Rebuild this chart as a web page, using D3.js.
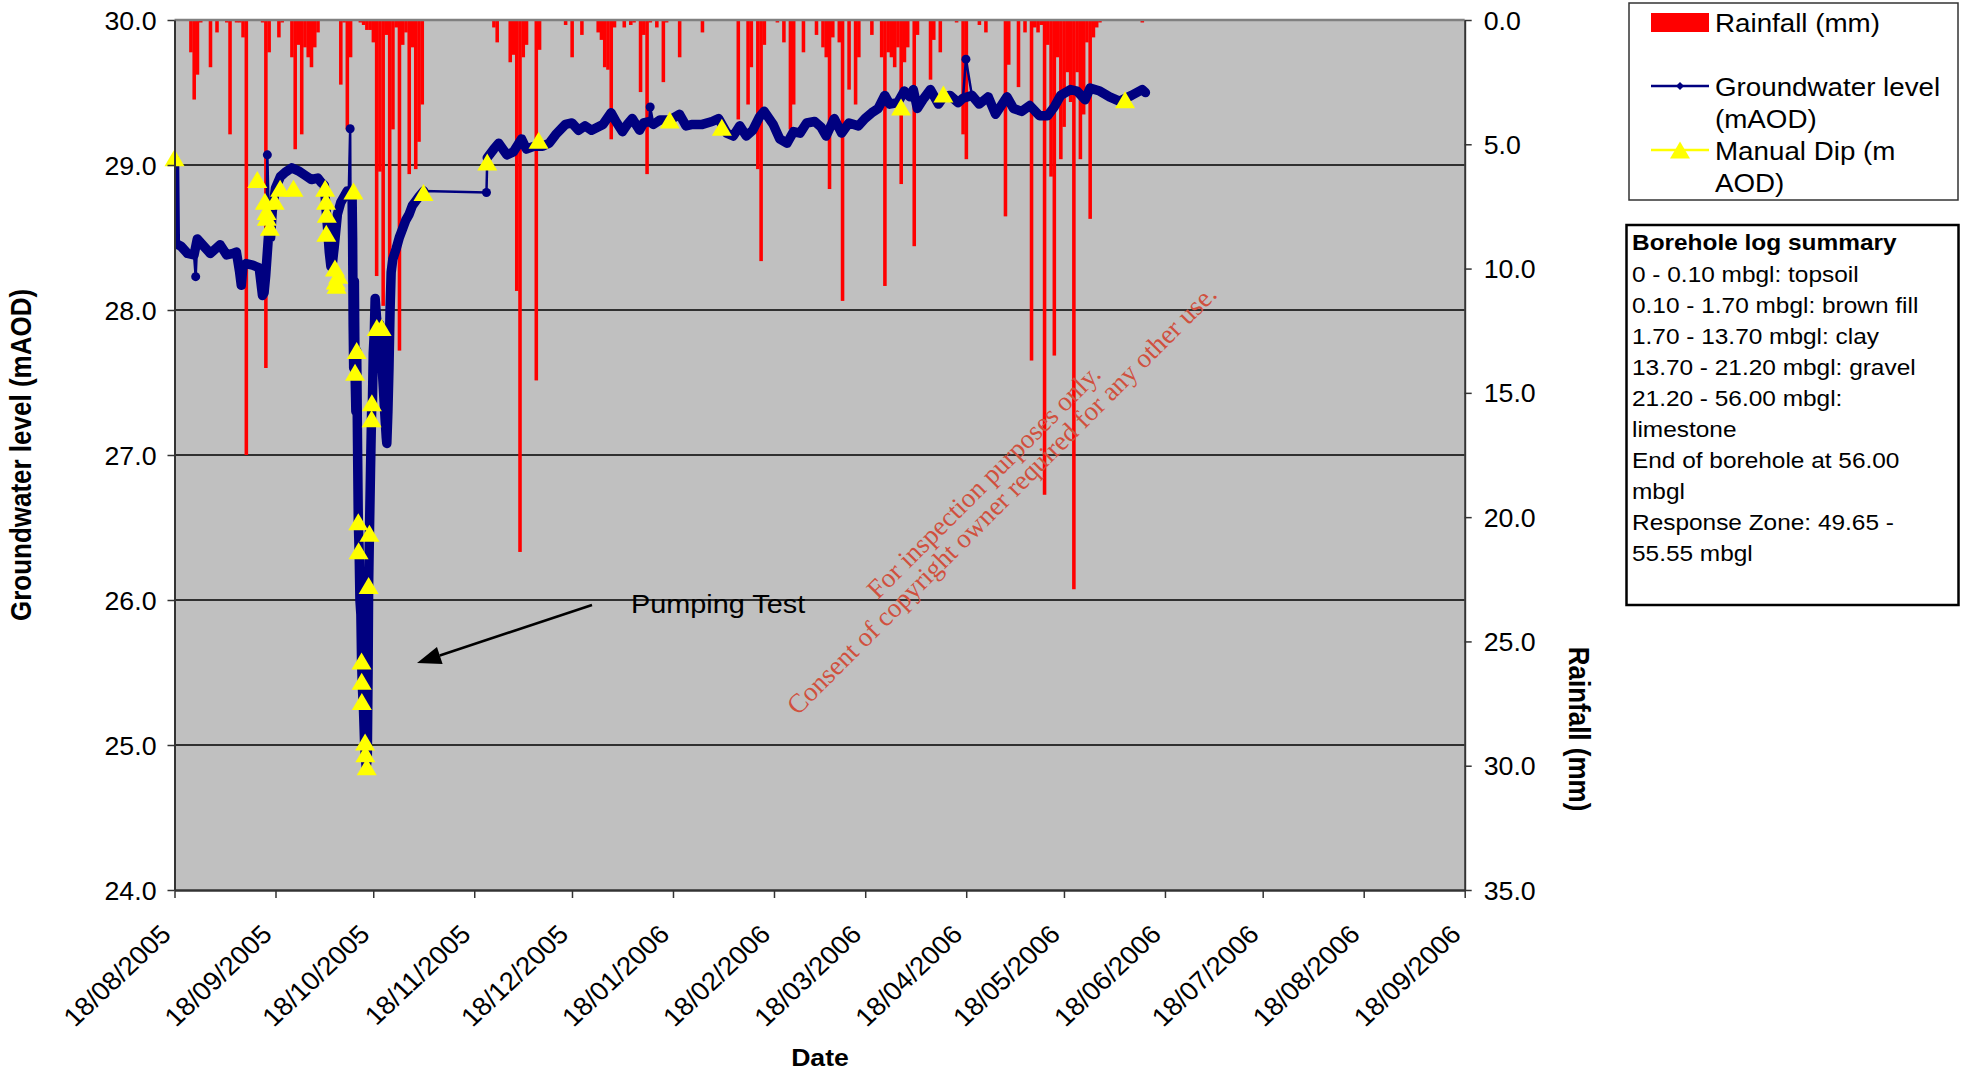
<!DOCTYPE html>
<html>
<head>
<meta charset="utf-8">
<script src="https://cdn.jsdelivr.net/npm/d3@7"></script>
<style>
  html, body { margin: 0; padding: 0; background: #fff; }
  svg { display: block; font-family: "Liberation Sans", Arial, sans-serif; }
</style>
</head>
<body>
<svg id="chart" width="1968" height="1074"></svg>
<script>
// ---------------------------------------------------------------------------
// Axis ticks
// ---------------------------------------------------------------------------
const dateTickLabels = ["18/08/2005","18/09/2005","18/10/2005","18/11/2005","18/12/2005",
  "18/01/2006","18/02/2006","18/03/2006","18/04/2006","18/05/2006","18/06/2006",
  "18/07/2006","18/08/2006","18/09/2006"];
const levelTicks = [24, 25, 26, 27, 28, 29, 30];
const rainTicks = [0, 5, 10, 15, 20, 25, 30, 35];

// ---------------------------------------------------------------------------
// Daily rainfall (mm), one array per month
// ---------------------------------------------------------------------------
const rainAug05 = [0,0,0,0,0,1.3,3.2,2.2,0.1,0,0,1.9,0,0.5];              // from 18 Aug
const rainSep05 = [0,0,0.1,4.6,0,0.1,0.1,0.7,17.5,0,0,0,0,0.1,14.0,1.3,0,0,0.7,0.1,
                   0,0,1.5,5.2,1.0,4.6,1.1,1.5,1.9,1.1];
const rainOct05 = [0.5,0,0,0,0,0,0,2.6,0.1,4.4,1.5,0,0,0.1,0.2,0.4,0.4,0.9,10.3,6.1,
                   11.5,0.6,15.1,4.4,0.3,13.3,1.0,0.5,6.2,1.1,6.0];
const rainNov05 = [4.9,3.4,0,0,0,0,0,0,0,0,0,0,0,0,0,0,0,0,0,0,0,0,0,0.3,0.9,0,0,0,1.7,1.4];
const rainDec05 = [10.9,21.4,1.5,1.0,0,0,14.5,1.2,0,0,0,0,0,0,0,0.2,0,1.5,0,0,
                   0.6,0,0,0,0,0.5,0.8,1.9,2.0,4.8,0.3];
const rainJan06 = [0,0,0.3,0,0.2,0.1,0,2.9,0.6,6.2,0.1,0,0.3,0,2.5,0.1,0,0,0,1.5,
                   0,0,0,0,0,0,0.5,0,0,0,0];
const rainFeb06 = [0,0,0,0,0,0,4.0,0,0,3.4,1.9,0,6.0,9.7,1.0,0,0,0,0.1,0,0.9,0,4.4,3.4,0,0,1.3,0];
const rainMar06 = [0,0,0.6,0,1.1,1.5,6.8,0.7,0,0.9,11.3,0,2.8,0,3.4,1.5,0,0,0,0.6,
                   0,0,1.5,10.7,1.3,1.5,1.9,1.1,6.6,1.7,1.1];
const rainApr06 = [0,9.1,0.6,0,0,0,2.4,0.8,0,1.3,0,0,0,0,0.1,0,4.6,5.6,0,0,
                   0,0.2,0,0.5,0,0,0,0,0,7.9];
const rainMay06 = [1.8,0,0,2.7,0,0.5,0,13.7,0.3,0.5,0.2,19.1,1.0,6.3,13.5,1.5,5.6,4.3,2.1,3.3,
                   22.9,2.1,5.6,3.8,0.9,8.0,0.7,0.3,0.1,0,0];
const rainJun06 = [0,0,0,0,0,0,0,0,0,0,0.1];
const rainMonths = [["2005-08-18", rainAug05], ["2005-09-01", rainSep05], ["2005-10-01", rainOct05],
  ["2005-11-01", rainNov05], ["2005-12-01", rainDec05], ["2006-01-01", rainJan06],
  ["2006-02-01", rainFeb06], ["2006-03-01", rainMar06], ["2006-04-01", rainApr06],
  ["2006-05-01", rainMay06], ["2006-06-01", rainJun06]];

// ---------------------------------------------------------------------------
// Groundwater level (mAOD) from the data logger
// ---------------------------------------------------------------------------
const levelsSummer = [
  ["2005-08-18T00",29.04],["2005-08-18T06",28.46],["2005-08-20",28.44],["2005-08-22",28.39],
  ["2005-08-24",28.38],["2005-08-25",28.49],["2005-08-27",28.44],["2005-08-29",28.39],
  ["2005-09-01",28.45],["2005-09-03",28.38],["2005-09-05",28.39],["2005-09-06",28.40],
  ["2005-09-07",28.26],["2005-09-07T12",28.17],["2005-09-08",28.30],["2005-09-09",28.32],
  ["2005-09-11",28.31],["2005-09-12",28.30],["2005-09-13",28.29],["2005-09-14",28.10],
  ["2005-09-14T12",28.12],["2005-09-15",28.24],["2005-09-16",28.56],["2005-09-16T12",28.50],
  ["2005-09-17",28.68],["2005-09-18",28.84],["2005-09-19T12",28.92],["2005-09-21",28.95],
  ["2005-09-23",28.98],["2005-09-25",28.96],["2005-09-27",28.93],["2005-09-29",28.90],
  ["2005-10-01",28.91],["2005-10-02",28.88],["2005-10-03",28.86],["2005-10-03T12",28.70],
  ["2005-10-04",28.56],["2005-10-04T12",28.40],["2005-10-05",28.30],["2005-10-05T12",28.33],
  ["2005-10-06",28.43],["2005-10-07",28.66],["2005-10-08",28.74],["2005-10-09",28.78],
  ["2005-10-10",28.82],["2005-10-10T12",28.82]
];
const levelsPumpTest = [
  ["2005-10-11T00",28.80],["2005-10-11T12",28.80],["2005-10-11T16",28.50],["2005-10-11T20",27.90],
  ["2005-10-12T00",27.60],["2005-10-12T05",28.20],["2005-10-12T10",27.57],["2005-10-12T16",27.30],
  ["2005-10-12T22",27.72],["2005-10-13T04",27.10],["2005-10-13T10",26.54],["2005-10-13T16",26.34],
  ["2005-10-13T22",26.00],["2005-10-14T05",25.90],["2005-10-14T10",25.58],["2005-10-14T16",25.40],
  ["2005-10-15T00",25.25],["2005-10-15T08",25.02],["2005-10-15T14",24.92],["2005-10-15T20",24.85],
  ["2005-10-16T04",24.90],["2005-10-16T10",25.50],["2005-10-16T14",26.10],["2005-10-16T20",26.46],
  ["2005-10-17T04",26.90],["2005-10-17T12",27.30],["2005-10-17T18",27.36],["2005-10-18T00",27.70],
  ["2005-10-18T08",27.85],["2005-10-18T14",28.08],["2005-10-19T00",27.95],["2005-10-19T12",27.85],
  ["2005-10-20T00",27.90],["2005-10-20T12",27.70],["2005-10-21T00",27.50],["2005-10-21T12",27.30],
  ["2005-10-22T00",27.12],["2005-10-22T04",27.08],["2005-10-22T12",27.30],["2005-10-22T20",27.60],
  ["2005-10-23T04",28.00],["2005-10-23T12",28.26],["2005-10-24T00",28.35],["2005-10-25",28.42],
  ["2005-10-26",28.50],["2005-10-27",28.56],["2005-10-28",28.62],["2005-10-29",28.66],
  ["2005-10-30",28.72],["2005-10-31",28.75],["2005-11-01",28.78],["2005-11-02T12",28.82]
];
const levelsWinter = [
  ["2005-11-22T00",29.05],["2005-11-24",29.11],["2005-11-25T12",29.15],["2005-11-28",29.07],
  ["2005-11-30",29.09],["2005-12-02T12",29.18],["2005-12-04",29.11],["2005-12-06T12",29.13],
  ["2005-12-09",29.13],["2005-12-11",29.15],["2005-12-13",29.21],["2005-12-16",29.28],
  ["2005-12-18",29.29],["2005-12-20",29.24],["2005-12-22",29.27],["2005-12-24",29.24],
  ["2005-12-27T12",29.28],["2005-12-30",29.36],["2005-12-31T12",29.30],["2006-01-02T12",29.23],
  ["2006-01-04",29.28],["2006-01-05T12",29.32],["2006-01-07T18",29.24],["2006-01-09",29.29],
  ["2006-01-10T18",29.30],["2006-01-12",29.28],["2006-01-14",29.31],["2006-01-17",29.31],
  ["2006-01-20",29.35],["2006-01-22",29.27],["2006-01-24",29.28],["2006-01-27",29.28],
  ["2006-01-30",29.30],["2006-02-01",29.32],["2006-02-03T12",29.22],["2006-02-05T12",29.20],
  ["2006-02-07T12",29.27],["2006-02-09T12",29.20],["2006-02-11T12",29.24],["2006-02-13T12",29.33],
  ["2006-02-15",29.37],["2006-02-17T18",29.28],["2006-02-19T18",29.18],["2006-02-22",29.15],
  ["2006-02-24",29.23],["2006-02-26",29.22],["2006-02-28",29.29],["2006-03-02T12",29.30],
  ["2006-03-04T12",29.26],["2006-03-06",29.20],["2006-03-08T12",29.32],["2006-03-10T18",29.22],
  ["2006-03-13",29.29],["2006-03-15T22",29.27],["2006-03-17T22",29.32],["2006-03-20",29.36],
  ["2006-03-22",29.39],["2006-03-24",29.48],["2006-03-25T12",29.42],["2006-03-28",29.43],
  ["2006-03-30",29.51],["2006-03-31T18",29.47],["2006-04-01T18",29.52],["2006-04-03",29.39],
  ["2006-04-05",29.46],["2006-04-07",29.52],["2006-04-09T12",29.42],["2006-04-11",29.47],
  ["2006-04-13",29.48],["2006-04-15T12",29.43],["2006-04-17",29.46],["2006-04-19T18",29.48],
  ["2006-04-22",29.42],["2006-04-24T18",29.47],["2006-04-27",29.35],["2006-04-30T12",29.47],
  ["2006-05-02T12",29.39],["2006-05-05",29.37],["2006-05-07T12",29.41],["2006-05-10T12",29.34],
  ["2006-05-13",29.34],["2006-05-15",29.40],["2006-05-17",29.48],["2006-05-20",29.52],
  ["2006-05-22",29.51],["2006-05-24T12",29.45],["2006-05-26",29.53],["2006-05-29",29.51],
  ["2006-06-01",29.47],["2006-06-04",29.44],["2006-06-07T18",29.48],["2006-06-11",29.52],
  ["2006-06-12",29.50]
];
// single logger readings standing apart from the run of values
const loggerIsolated = [
  ["2005-08-24T12",28.23],["2005-09-15T12",29.07],["2005-10-10T22",29.25],
  ["2005-11-21T18",28.81],["2006-01-11T00",29.40],["2006-04-17T22",29.73]
];

// ---------------------------------------------------------------------------
// Manual dip readings (m AOD)
// ---------------------------------------------------------------------------
const manualDips = [
  ["2005-08-18T00",29.05],["2005-09-12T10",28.90],["2005-09-14T18",28.75],["2005-09-15T06",28.68],
  ["2005-09-15T08",28.64],["2005-09-16T06",28.57],["2005-09-17T18",28.75],["2005-09-19T10",28.84],
  ["2005-09-23T12",28.84],["2005-10-03T06",28.84],["2005-10-03T12",28.75],["2005-10-03T18",28.66],
  ["2005-10-03T14",28.53],["2005-10-06T06",28.29],["2005-10-06T12",28.20],["2005-10-06T18",28.17],
  ["2005-10-07T06",28.24],["2005-10-11T22",28.82],["2005-10-12T10",27.57],["2005-10-12T22",27.72],
  ["2005-10-13T10",26.54],["2005-10-13T12",26.34],["2005-10-14T10",25.58],["2005-10-14T11",25.44],
  ["2005-10-14T12",25.30],["2005-10-15T12",25.02],["2005-10-15T14",24.94],["2005-10-16T00",24.85],
  ["2005-10-16T14",26.10],["2005-10-16T20",26.46],["2005-10-17T12",27.25],["2005-10-17T14",27.36],
  ["2005-10-19T02",27.88],["2005-10-20T14",27.88],["2005-11-02T10",28.81],["2005-11-22T00",29.02],
  ["2005-12-07T18",29.17],["2006-01-17T00",29.31],["2006-02-02T00",29.26],["2006-03-29T00",29.40],
  ["2006-04-11T00",29.49],["2006-06-05T18",29.45]
];

const boreholeLog = [
  "0 - 0.10 mbgl: topsoil",
  "0.10 - 1.70 mbgl: brown fill",
  "1.70 - 13.70 mbgl: clay",
  "13.70 - 21.20 mbgl: gravel",
  "21.20 - 56.00 mbgl:",
  "limestone",
  "End of borehole at 56.00",
  "mbgl",
  "Response Zone: 49.65 -",
  "55.55 mbgl"
];

// ---------------------------------------------------------------------------
// Layout & scales
// ---------------------------------------------------------------------------
const M = { left: 174.5, right: 1464.7, top: 20, bottom: 890 };
const SX = 1.11;             // horizontal stretch of the lettering
const NAVY = "#000080";

const parseDay = d3.utcParse("%Y-%m-%d");
const parseHour = d3.utcParse("%Y-%m-%dT%H");
const parseTime = s => (s.length > 10 ? parseHour(s) : parseDay(s));
const parseTick = d3.utcParse("%d/%m/%Y");
const tickDates = dateTickLabels.map(parseTick);

const x = d3.scaleUtc().domain([tickDates[0], tickDates[tickDates.length - 1]]).range([M.left, M.right]);
const yLevel = d3.scaleLinear().domain([24, 30]).range([M.bottom, M.top]);
const yRain = d3.scaleLinear().domain([0, 35]).range([M.top, M.bottom]);

const svg = d3.select("#chart");
svg.append("defs").append("clipPath").attr("id", "plot-clip")
  .append("rect").attr("x", M.left).attr("y", M.top)
  .attr("width", M.right - M.left).attr("height", M.bottom - M.top);

function label(parent, px, py, str, o = {}) {
  const t = parent.append("text")
    .attr("transform", `translate(${px},${py}) scale(${o.sx ?? SX},1)` + (o.rotate ? ` rotate(${o.rotate})` : ""))
    .attr("text-anchor", o.anchor || "start")
    .attr("font-size", o.size || 24)
    .attr("font-weight", o.weight || "normal")
    .attr("fill", o.fill || "#000")
    .text(str);
  if (o.family) t.attr("font-family", o.family);
  return t;
}

// plot area
svg.append("rect").attr("x", M.left).attr("y", M.top)
  .attr("width", M.right - M.left).attr("height", M.bottom - M.top).attr("fill", "#C0C0C0");

// horizontal gridlines on the level axis
svg.append("g").selectAll("line")
  .data(levelTicks.filter(v => v > 24 && v < 30))
  .join("line")
  .attr("x1", M.left).attr("x2", M.right)
  .attr("y1", d => yLevel(d)).attr("y2", d => yLevel(d))
  .attr("stroke", "#000").attr("stroke-width", 1.5);

// rainfall bars hanging from the top axis
const rainDays = rainMonths.flatMap(([start, values]) =>
  values.map((mm, i) => ({ date: d3.utcDay.offset(parseDay(start), i), mm })))
  .filter(d => d.mm > 0);
svg.append("g").attr("clip-path", "url(#plot-clip)")
  .selectAll("rect").data(rainDays).join("rect")
  .attr("x", d => x(d3.utcHour.offset(d.date, -12)))
  .attr("width", d => x(d3.utcHour.offset(d.date, 12)) - x(d3.utcHour.offset(d.date, -12)) + 0.3)
  .attr("y", yRain(0))
  .attr("height", d => yRain(d.mm) - yRain(0))
  .attr("fill", "#FF0000");

// top border of the plot area
svg.append("line").attr("x1", M.left).attr("x2", M.right).attr("y1", M.top).attr("y2", M.top)
  .attr("stroke", "#808080").attr("stroke-width", 2.5);

// groundwater level
const toPoint = ([t, v]) => ({ date: parseTime(t), level: v });
const logger = [...levelsSummer, ...levelsPumpTest, ...levelsWinter].map(toPoint);
const isolated = loggerIsolated.map(toPoint);
const allLevels = [...logger, ...isolated].sort((a, b) => a.date - b.date);
const lineGen = d3.line().x(d => x(d.date)).y(d => yLevel(d.level));

const gw = svg.append("g").attr("clip-path", "url(#plot-clip)");
gw.append("path").datum(allLevels).attr("d", lineGen)
  .attr("fill", "none").attr("stroke", NAVY).attr("stroke-width", 2.5);

// dense logger runs: the markers merge into a continuous band
const runs = [];
logger.forEach((p, i) => {
  if (i === 0 || (p.date - logger[i - 1].date) > 4 * 864e5) runs.push([]);
  runs[runs.length - 1].push(p);
});
gw.selectAll("path.band").data(runs).join("path").attr("class", "band")
  .attr("d", lineGen).attr("fill", "none").attr("stroke", NAVY)
  .attr("stroke-width", 9.5).attr("stroke-linejoin", "round").attr("stroke-linecap", "round");
gw.selectAll("circle.iso").data(isolated).join("circle").attr("class", "iso")
  .attr("cx", d => x(d.date)).attr("cy", d => yLevel(d.level)).attr("r", 4.5).attr("fill", NAVY);

// manual dips
const tri = (w, h) => `M0,${-h / 2}L${w / 2},${h / 2}L${-w / 2},${h / 2}Z`;
svg.append("g").selectAll("path").data(manualDips.map(toPoint)).join("path")
  .attr("transform", d => `translate(${x(d.date)},${yLevel(d.level)})`)
  .attr("d", tri(20, 17)).attr("fill", "#FFFF00");

// axes
const axisStroke = "#333";
const leftAxis = svg.append("g").attr("transform", `translate(${M.left},0)`)
  .call(d3.axisLeft(yLevel).tickValues(levelTicks).tickFormat(d3.format(".1f")).tickSize(7).tickSizeOuter(0));
leftAxis.select(".domain").attr("stroke", axisStroke).attr("stroke-width", 2);
leftAxis.selectAll(".tick line").attr("stroke", axisStroke).attr("stroke-width", 1.5);
leftAxis.selectAll(".tick text")
  .attr("font-size", 25).attr("font-family", "Liberation Sans, Arial, sans-serif").attr("fill", "#000")
  .attr("x", -18 / 1.07).attr("dy", "0.36em").attr("transform", "scale(1.07,1)");

const rightAxis = svg.append("g").attr("transform", `translate(${M.right},0)`)
  .call(d3.axisRight(yRain).tickValues(rainTicks).tickFormat(d3.format(".1f")).tickSize(7).tickSizeOuter(0));
rightAxis.select(".domain").attr("stroke", axisStroke).attr("stroke-width", 2);
rightAxis.selectAll(".tick line").attr("stroke", axisStroke).attr("stroke-width", 1.5);
rightAxis.selectAll(".tick text")
  .attr("font-size", 25).attr("font-family", "Liberation Sans, Arial, sans-serif").attr("fill", "#000")
  .attr("x", 19 / 1.07).attr("dy", "0.36em").attr("transform", "scale(1.07,1)");

const bottomAxis = svg.append("g").attr("transform", `translate(0,${M.bottom})`)
  .call(d3.axisBottom(x).tickValues(tickDates).tickFormat("").tickSize(8).tickSizeOuter(0));
bottomAxis.select(".domain").attr("stroke", axisStroke).attr("stroke-width", 2.5);
bottomAxis.selectAll(".tick line").attr("stroke", axisStroke).attr("stroke-width", 1.5);
const dateLabels = svg.append("g");
dateTickLabels.forEach((s, i) => {
  label(dateLabels, x(tickDates[i]) - 2, 936, s, { anchor: "end", rotate: -45, size: 26, sx: 1.06 });
});

// axis titles
label(svg, 31, 455, "Groundwater level (mAOD)", { anchor: "middle", rotate: -90, size: 26, weight: "bold" });
label(svg, 1569, 729, "Rainfall (mm)", { anchor: "middle", rotate: 90, size: 26, weight: "bold" });
label(svg, 820, 1066, "Date", { anchor: "middle", size: 24, weight: "bold" });

// pumping test annotation
label(svg, 631, 613, "Pumping Test", { size: 26 });
{
  const x0 = 592, y0 = 605, x1 = 417, y1 = 663;
  const len = Math.hypot(x1 - x0, y1 - y0), ux = (x1 - x0) / len, uy = (y1 - y0) / len;
  const hl = 24, hw = 9;
  const bx = x1 - ux * hl, by = y1 - uy * hl;
  svg.append("line").attr("x1", x0).attr("y1", y0).attr("x2", bx).attr("y2", by)
    .attr("stroke", "#000").attr("stroke-width", 2.5);
  svg.append("path")
    .attr("d", `M${x1},${y1}L${bx - uy * hw},${by + ux * hw}L${bx + uy * hw},${by - ux * hw}Z`)
    .attr("fill", "#000");
}

// legend
const lg = svg.append("g");
lg.append("rect").attr("x", 1629).attr("y", 3).attr("width", 329).attr("height", 197)
  .attr("fill", "#fff").attr("stroke", "#333").attr("stroke-width", 1.5);
lg.append("rect").attr("x", 1651).attr("y", 13).attr("width", 58).attr("height", 19).attr("fill", "#FF0000");
label(lg, 1715, 32, "Rainfall (mm)", { size: 25 });
lg.append("line").attr("x1", 1651).attr("x2", 1709).attr("y1", 86).attr("y2", 86)
  .attr("stroke", NAVY).attr("stroke-width", 2.5);
lg.append("path").attr("d", "M1680,82L1684,86L1680,90L1676,86Z").attr("fill", NAVY);
label(lg, 1715, 96, "Groundwater level", { size: 25 });
label(lg, 1715, 128, "(mAOD)", { size: 25 });
lg.append("line").attr("x1", 1651).attr("x2", 1709).attr("y1", 150).attr("y2", 150)
  .attr("stroke", "#FFFF00").attr("stroke-width", 2.5);
lg.append("path").attr("transform", "translate(1680,150)").attr("d", tri(20, 17)).attr("fill", "#FFFF00");
label(lg, 1715, 160, "Manual Dip (m", { size: 25 });
label(lg, 1715, 192, "AOD)", { size: 25 });

// borehole log summary
const bh = svg.append("g");
bh.append("rect").attr("x", 1626.5).attr("y", 225).attr("width", 332).attr("height", 380)
  .attr("fill", "#fff").attr("stroke", "#000").attr("stroke-width", 2.5);
label(bh, 1632, 250, "Borehole log summary", { size: 22, weight: "bold" });
boreholeLog.forEach((s, i) => label(bh, 1632, 281.5 + i * 31.1, s, { size: 22 }));

// inspection stamp
const stamp = svg.append("g").attr("font-family", "Liberation Serif, 'Times New Roman', serif")
  .attr("font-size", 27).attr("fill", "#d0503e").attr("text-anchor", "middle");
stamp.append("text").attr("transform", "translate(990,488) rotate(-45)").text("For inspection purposes only.");
stamp.append("text").attr("transform", "translate(1008,506) rotate(-45)")
  .text("Consent of copyright owner required for any other use.");
</script>
</body>
</html>
